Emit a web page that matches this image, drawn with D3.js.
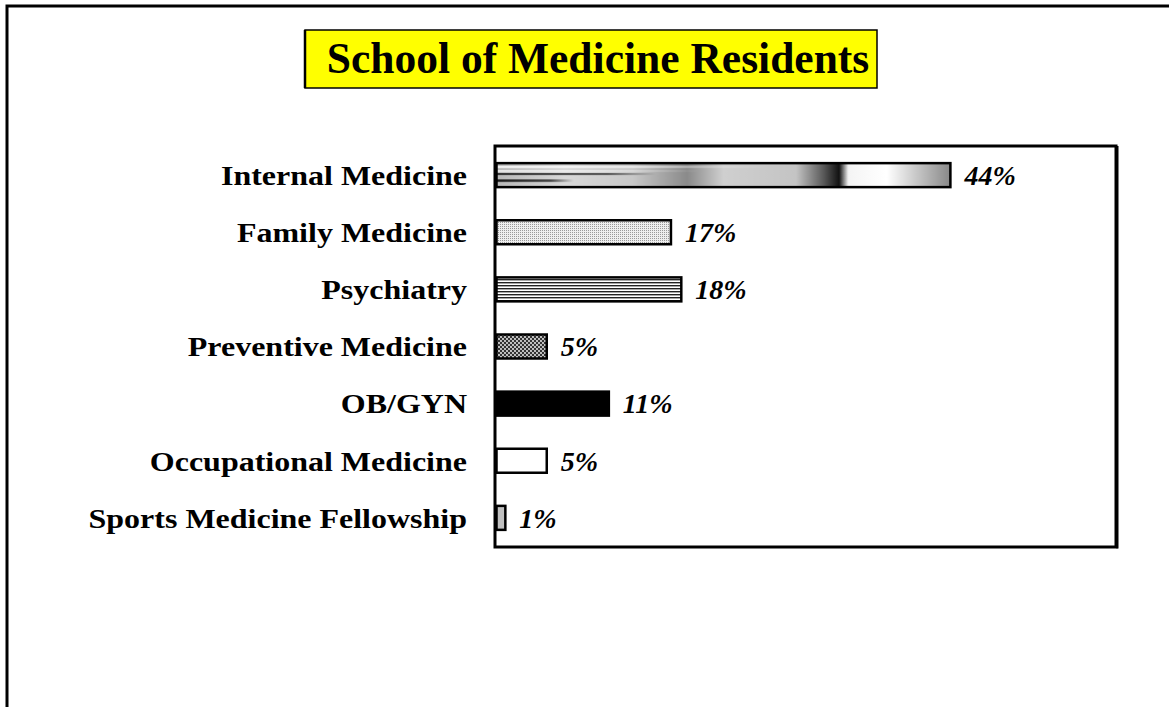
<!DOCTYPE html>
<html>
<head>
<meta charset="utf-8">
<script src="https://cdn.jsdelivr.net/npm/d3@7"></script>
<style>
  body { margin: 0; background: #fff; }
  svg { display: block; }
  text { font-family: "Liberation Serif", "Times New Roman", serif; }
</style>
</head>
<body>
<div id="graph"></div>
<script>
// chart data
var titleText = "School of Medicine Residents";
var categories = ["Internal Medicine", "Family Medicine", "Psychiatry", "Preventive Medicine",
                  "OB/GYN", "Occupational Medicine", "Sports Medicine Fellowship"];
var percents = [44, 17, 18, 5, 11, 5, 1];
var fills = ["url(#metal)", "url(#dots)", "url(#hlines)", "url(#checks)", "#000", "#fff", "#c0c0c0"];

var width = 1169, height = 707;
var plot = {left: 495, right: 1116, top: 146, bottom: 547};

var svg = d3.select("#graph").append("svg")
    .attr("width", width)
    .attr("height", height);

// fill patterns
var defs = svg.append("defs");

var grad = defs.append("linearGradient").attr("id", "grad")
    .attr("x1", "0%").attr("x2", "100%").attr("y1", "0%").attr("y2", "0%");
[[0, "#b8b8b8"], [0.15, "#d8d8d8"], [0.3, "#c8c8c8"], [0.42, "#8a8a8a"], [0.5, "#cfcfcf"],
 [0.66, "#c4c4c4"], [0.72, "#5a5a5a"], [0.755, "#111"], [0.775, "#f4f4f4"], [0.86, "#ffffff"],
 [1, "#888"]].forEach(function(s) {
  grad.append("stop").attr("offset", s[0]).attr("stop-color", s[1]);
});
var streak = defs.append("linearGradient").attr("id", "streak")
    .attr("x1", "0%").attr("x2", "100%").attr("y1", "0%").attr("y2", "0%");
[[0, "#fff", 0.9], [0.5, "#fff", 0.6], [1, "#fff", 0]].forEach(function(s) {
  streak.append("stop").attr("offset", s[0]).attr("stop-color", s[1]).attr("stop-opacity", s[2]);
});
var darkStreak = defs.append("linearGradient").attr("id", "darkstreak")
    .attr("x1", "0%").attr("x2", "100%").attr("y1", "0%").attr("y2", "0%");
[[0, "#000", 0.9], [0.7, "#000", 0.7], [1, "#000", 0]].forEach(function(s) {
  darkStreak.append("stop").attr("offset", s[0]).attr("stop-color", s[1]).attr("stop-opacity", s[2]);
});

var metal = defs.append("pattern").attr("id", "metal")
    .attr("width", 1).attr("height", 1)
    .attr("patternUnits", "objectBoundingBox")
    .attr("patternContentUnits", "objectBoundingBox");
metal.append("rect").attr("width", 1).attr("height", 1).attr("fill", "url(#grad)");
metal.append("rect").attr("y", 0.12).attr("width", 0.6).attr("height", 0.08).attr("fill", "url(#streak)");
metal.append("rect").attr("y", 0.3).attr("width", 0.45).attr("height", 0.06).attr("fill", "url(#streak)");
metal.append("rect").attr("y", 0.42).attr("width", 0.35).attr("height", 0.07).attr("fill", "url(#darkstreak)");
metal.append("rect").attr("y", 0.68).attr("width", 0.17).attr("height", 0.1).attr("fill", "url(#darkstreak)");

var dots = defs.append("pattern").attr("id", "dots")
    .attr("width", 2).attr("height", 2).attr("patternUnits", "userSpaceOnUse");
dots.append("rect").attr("width", 2).attr("height", 2).attr("fill", "#eee");
dots.append("rect").attr("width", 1).attr("height", 1).attr("fill", "#999");

var hl = defs.append("pattern").attr("id", "hlines")
    .attr("width", 4).attr("height", 3).attr("patternUnits", "userSpaceOnUse");
hl.append("rect").attr("width", 4).attr("height", 3).attr("fill", "#fff");
hl.append("rect").attr("width", 4).attr("height", 1.4).attr("fill", "#222");

var ck = defs.append("pattern").attr("id", "checks")
    .attr("width", 4).attr("height", 4).attr("patternUnits", "userSpaceOnUse");
ck.append("rect").attr("width", 4).attr("height", 4).attr("fill", "#333");
ck.append("circle").attr("cx", 1).attr("cy", 1).attr("r", 0.9).attr("fill", "#fff");
ck.append("circle").attr("cx", 3).attr("cy", 3).attr("r", 0.9).attr("fill", "#fff");

// outer frame
svg.append("path")
    .attr("d", "M7," + height + " V6 H" + width)
    .attr("fill", "none").attr("stroke", "#000").attr("stroke-width", 3);

// title
var tg = svg.append("g");
tg.append("rect")
    .attr("x", 305).attr("y", 30).attr("width", 572).attr("height", 58)
    .attr("fill", "#ffff00").attr("stroke", "#000").attr("stroke-width", 1.5);
tg.append("line")
    .attr("x1", 305).attr("x2", 305).attr("y1", 30).attr("y2", 88)
    .attr("stroke", "#000").attr("stroke-width", 2.5);
tg.append("text")
    .attr("x", 598).attr("y", 73)
    .attr("text-anchor", "middle")
    .style("font-size", "43.5px").style("font-weight", "bold")
    .text(titleText);

// scales
var x = d3.scaleLinear().domain([0, 60]).range([plot.left, plot.right]);
var y = d3.scaleBand().domain(categories).range([plot.top, plot.bottom])
    .paddingInner(0.58).paddingOuter(0.3);

// plot area border
svg.append("rect")
    .attr("x", plot.left).attr("y", plot.top)
    .attr("width", plot.right - plot.left).attr("height", plot.bottom - plot.top)
    .attr("fill", "none").attr("stroke", "#000").attr("stroke-width", 3);
svg.append("line")
    .attr("x1", plot.right + 1.5).attr("x2", plot.right + 1.5)
    .attr("y1", plot.top).attr("y2", plot.bottom + 1.5)
    .attr("stroke", "#000").attr("stroke-width", 2);

// bars
svg.selectAll(".bar")
  .data(categories)
  .enter().append("rect")
    .attr("class", "bar")
    .attr("x", x(0) + 1.5)
    .attr("y", function(d) { return y(d); })
    .attr("width", function(d, i) { return x(percents[i]) - x(0) - 1.5; })
    .attr("height", y.bandwidth())
    .attr("fill", function(d, i) { return fills[i]; })
    .attr("stroke", "#000").attr("stroke-width", 2.5);

// category labels (wide bold serif, squashed a little vertically)
svg.selectAll(".cat")
  .data(categories)
  .enter().append("text")
    .attr("class", "cat")
    .attr("transform", function(d) {
      return "translate(467," + (y(d) + y.bandwidth() / 2) + ") scale(1,0.88)";
    })
    .attr("dy", "0.35em")
    .attr("text-anchor", "end")
    .style("font-size", "32px").style("font-weight", "bold")
    .text(function(d) { return d; });

// value labels
svg.selectAll(".val")
  .data(categories)
  .enter().append("text")
    .attr("class", "val")
    .attr("x", function(d, i) { return x(percents[i]) + 14; })
    .attr("y", function(d) { return y(d) + y.bandwidth() / 2; })
    .attr("dy", "0.35em")
    .style("font-size", "28px").style("font-weight", "bold").style("font-style", "italic")
    .text(function(d, i) { return percents[i] + "%"; });
</script>
</body>
</html>
